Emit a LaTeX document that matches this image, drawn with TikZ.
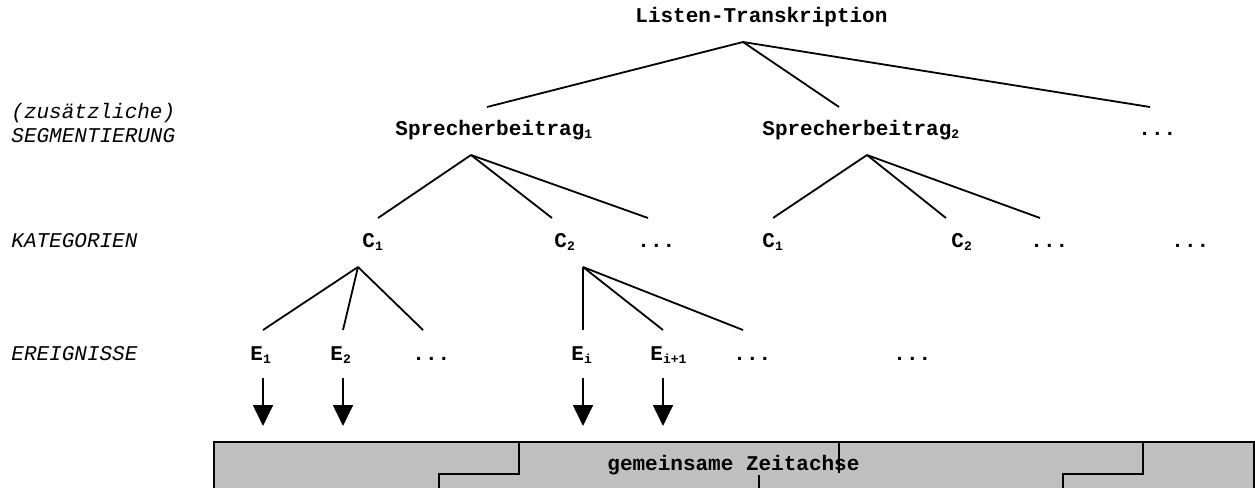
\documentclass[tikz,border=0pt]{standalone}
\usepackage{fontspec}
\setmainfont{Liberation Mono}
\usetikzlibrary{arrows.meta}

\definecolor{axisgray}{HTML}{C0C0C0}
\newcommand{\subidx}[1]{\raisebox{-0.35ex}{\fontsize{6.5}{7}\selectfont #1}}

\tikzset{
	lbl/.style={anchor=base west, inner sep=0pt, font=\fontsize{10.5}{12}\selectfont\bfseries},
	lvl/.style={anchor=base west, inner sep=0pt, font=\fontsize{10.5}{12}\selectfont\itshape},
	branch/.style={line width=0.9pt},
	down/.style={line width=0.9pt, -{Triangle[width=10pt,length=10.5pt]}}
}

\begin{document}
\begin{tikzpicture}[x=0.5pt,y=-0.5pt]
			\useasboundingbox (0,0) rectangle (1255,488);
			
			% levels
			\node[lvl] (seg1) at (11,118) {(zusätzliche)};
			\node[lvl] (seg2) at (11,142) {SEGMENTIERUNG};
			\node[lvl] (kat) at (11,247) {KATEGORIEN};
			\node[lvl] (ere) at (11,360) {EREIGNISSE};
			
			% tree labels
			\node[lbl] (t) at (635,22) {Listen-Transkription};
			
			\node[lbl] (s1) at (395,135) {Sprecherbeitrag\subidx{1}};
			\node[lbl] (s2) at (762,135) {Sprecherbeitrag\subidx{2}};
			\node[lbl] (s3) at (1138,135) {...};
			
			\node[lbl] (c1) at (362,247) {C\subidx{1}};
			\node[lbl] (c2) at (554,247) {C\subidx{2}};
			\node[lbl] (c3) at (637,247) {...};
			\node[lbl] (c4) at (762,247) {C\subidx{1}};
			\node[lbl] (c5) at (951,247) {C\subidx{2}};
			\node[lbl] (c6) at (1030,247) {...};
			\node[lbl] (c7) at (1171,247) {...};
			
			\node[lbl] (e1) at (250,360) {E\subidx{1}};
			\node[lbl] (e2) at (330,360) {E\subidx{2}};
			\node[lbl] (e3) at (412,360) {...};
			\node[lbl] (e4) at (571,360) {E\subidx{i}};
			\node[lbl] (e5) at (650,360) {E\subidx{i+1}};
			\node[lbl] (e6) at (733,360) {...};
			\node[lbl] (e7) at (893,360) {...};
			
			% branch points
			\coordinate (tr) at (743,42);
			\coordinate (s1u) at (487,107);
			\coordinate (s2u) at (839,107);
			\coordinate (s3u) at (1150,107);
			
			\coordinate (s1r) at (471,155);
			\coordinate (c1u) at (378,218);
			\coordinate (c2u) at (552,218);
			\coordinate (c3u) at (648,218);
			
			\coordinate (s2r) at (867,155);
			\coordinate (c4u) at (773,218);
			\coordinate (c5u) at (946,218);
			\coordinate (c6u) at (1040,218);
			
			\coordinate (c1r) at (358,267);
			\coordinate (e1u) at (263,330);
			\coordinate (e2u) at (343,330);
			\coordinate (e3u) at (423,330);
			
			\coordinate (c2r) at (583,267);
			\coordinate (e4u) at (583,330);
			\coordinate (e5u) at (663,330);
			\coordinate (e6u) at (743,330);
			
			\draw[branch] (tr) -- (s1u);
			\draw[branch] (tr) -- (s2u);
			\draw[branch] (tr) -- (s3u);
			\draw[branch] (s1r) -- (c1u);
			\draw[branch] (s1r) -- (c2u);
			\draw[branch] (s1r) -- (c3u);
			\draw[branch] (s2r) -- (c4u);
			\draw[branch] (s2r) -- (c5u);
			\draw[branch] (s2r) -- (c6u);
			\draw[branch] (c1r) -- (e1u);
			\draw[branch] (c1r) -- (e2u);
			\draw[branch] (c1r) -- (e3u);
			\draw[branch] (c2r) -- (e4u);
			\draw[branch] (c2r) -- (e5u);
			\draw[branch] (c2r) -- (e6u);
			
			% time axis
			\fill[axisgray] (214,442) rectangle (1254,492);
			\draw[line width=1pt] (214,492) -- (214,442) -- (1254,442) -- (1254,492);
			\draw[line width=0.9pt] (519,442) -- (519,474) -- (439,474) -- (439,492);
			\draw[line width=0.9pt] (839,442) -- (839,473);
			\draw[line width=0.9pt] (759,475) -- (759,492);
			\draw[line width=0.9pt] (1143,442) -- (1143,474) -- (1063,474) -- (1063,492);
			\node[lbl] (axis) at (607,470) {gemeinsame Zeitachse};
			
			% events onto the axis
			\foreach \x/\n in {263/1,343/2,583/4,663/5} {
				\coordinate (a\n) at (\x,378);
				\coordinate (b\n) at (\x,426);
				\draw[down] (a\n) -- (b\n);
			}
\end{tikzpicture}
\end{document}
